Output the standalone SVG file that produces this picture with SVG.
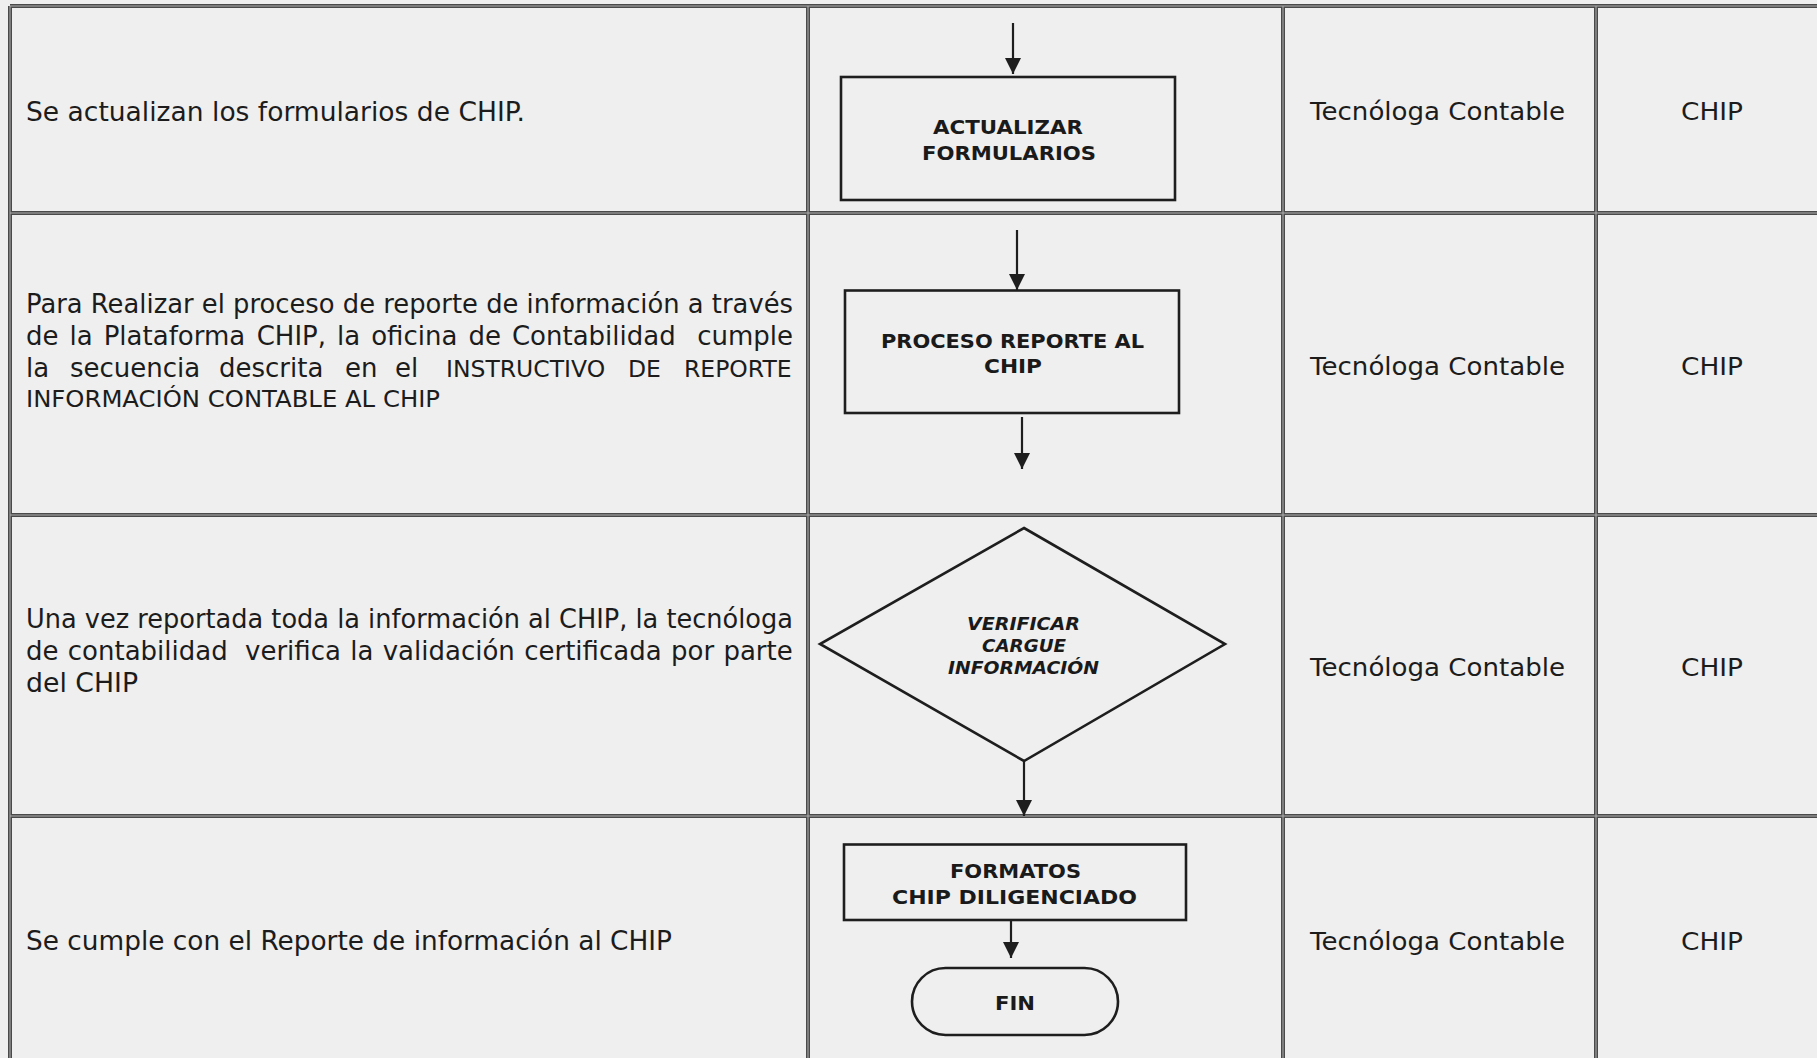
<svg xmlns="http://www.w3.org/2000/svg" width="1817" height="1058" viewBox="0 0 1817 1058">
<style>
.grid{stroke:#4a4a4a;stroke-width:4;fill:none}
.gridc{stroke:#b0b0b0;stroke-width:1;fill:none}
.desc{font-family:"DejaVu Sans","Verdana",sans-serif;font-size:26px;fill:#1c1c1c}
.caps{font-size:23.5px}
.cell{font-family:"DejaVu Sans","Verdana",sans-serif;font-size:25px;fill:#1c1c1c}
.shape{fill:none;stroke:#1e1e1e;stroke-width:2.6}
.lbl{font-family:"DejaVu Sans","Verdana",sans-serif;font-size:20px;font-weight:bold;fill:#1a1a1a}
.lbli{font-family:"DejaVu Sans","Verdana",sans-serif;font-size:17px;font-weight:bold;font-style:italic;fill:#1a1a1a}
.conn{stroke:#1e1e1e;stroke-width:2.2;fill:none;marker-end:url(#ah)}
</style>
<defs>
<marker id="ah" markerUnits="userSpaceOnUse" markerWidth="17" markerHeight="17" refX="16" refY="8" orient="auto">
<path d="M0,0 L16,8 L0,16 z" fill="#1e1e1e"/>
</marker>
</defs>
<rect x="0" y="0" width="1817" height="1058" fill="#efefef"/>
<g id="table">
<path class="grid" d="M10,6 H1817 M10,213 H1817 M10,515 H1817 M10,816 H1817 M10,6 V1058 M808,6 V1058 M1283,6 V1058 M1596,6 V1058"/>
<path class="gridc" d="M10,6 H1817 M10,213 H1817 M10,515 H1817 M10,816 H1817 M10,6 V1058 M808,6 V1058 M1283,6 V1058 M1596,6 V1058"/>
</g>
<g id="descriptions">
<text class="desc" x="26" y="121" textLength="499" lengthAdjust="spacingAndGlyphs">Se actualizan los formularios de CHIP.</text>
<text class="desc" x="26" y="313" textLength="767" lengthAdjust="spacingAndGlyphs">Para Realizar el proceso de reporte de información a través</text>
<text class="desc" y="345"><tspan x="26">de</tspan><tspan x="69.5">la</tspan><tspan x="103.7">Plataforma</tspan><tspan x="256.7">CHIP,</tspan><tspan x="337">la</tspan><tspan x="371.2">oficina</tspan><tspan x="468.4">de</tspan><tspan x="511.9">Contabilidad</tspan><tspan x="697.2">cumple</tspan></text>
<text class="desc" y="377"><tspan x="26">la</tspan><tspan x="70">secuencia</tspan><tspan x="219">descrita</tspan><tspan x="345">en</tspan><tspan x="395">el</tspan><tspan class="caps" x="446">INSTRUCTIVO</tspan><tspan class="caps" x="628">DE</tspan><tspan class="caps" x="684">REPORTE</tspan></text>
<text class="desc caps" x="26" y="407" textLength="414" lengthAdjust="spacingAndGlyphs">INFORMACIÓN CONTABLE AL CHIP</text>
<text class="desc" x="26" y="628" textLength="767" lengthAdjust="spacingAndGlyphs">Una vez reportada toda la información al CHIP, la tecnóloga</text>
<text class="desc" y="660"><tspan x="26">de</tspan><tspan x="67.8">contabilidad</tspan><tspan x="245">verifica</tspan><tspan x="350.2">la</tspan><tspan x="382.7">validación</tspan><tspan x="524.2">certificada</tspan><tspan x="671">por</tspan><tspan x="723.4">parte</tspan></text>
<text class="desc" x="26" y="692" textLength="112" lengthAdjust="spacingAndGlyphs">del CHIP</text>
<text class="desc" x="26" y="950" textLength="646" lengthAdjust="spacingAndGlyphs">Se cumple con el Reporte de información al CHIP</text>
</g>
<g id="responsables">
<text class="cell" x="1310" y="120" textLength="255" lengthAdjust="spacingAndGlyphs">Tecnóloga Contable</text>
<text class="cell" x="1681" y="120" textLength="62" lengthAdjust="spacingAndGlyphs">CHIP</text>
<text class="cell" x="1310" y="375" textLength="255" lengthAdjust="spacingAndGlyphs">Tecnóloga Contable</text>
<text class="cell" x="1681" y="375" textLength="62" lengthAdjust="spacingAndGlyphs">CHIP</text>
<text class="cell" x="1310" y="676" textLength="255" lengthAdjust="spacingAndGlyphs">Tecnóloga Contable</text>
<text class="cell" x="1681" y="676" textLength="62" lengthAdjust="spacingAndGlyphs">CHIP</text>
<text class="cell" x="1310" y="950" textLength="255" lengthAdjust="spacingAndGlyphs">Tecnóloga Contable</text>
<text class="cell" x="1681" y="950" textLength="62" lengthAdjust="spacingAndGlyphs">CHIP</text>
</g>
<g id="connectors">
<line class="conn" x1="1013" y1="23" x2="1013" y2="74"/>
<line class="conn" x1="1017" y1="230" x2="1017" y2="290"/>
<line class="conn" x1="1022" y1="417" x2="1022" y2="469"/>
<line class="conn" x1="1024" y1="761" x2="1024" y2="816"/>
<line class="conn" x1="1011" y1="920" x2="1011" y2="958"/>
</g>
<g id="n-actualizar">
<rect class="shape" x="841" y="77" width="334" height="123"/>
<text class="lbl" x="933" y="134" textLength="150" lengthAdjust="spacingAndGlyphs">ACTUALIZAR</text>
<text class="lbl" x="922" y="160" textLength="174" lengthAdjust="spacingAndGlyphs">FORMULARIOS</text>
</g>
<g id="n-proceso">
<rect class="shape" x="845" y="290.5" width="334" height="122.5"/>
<text class="lbl" x="881" y="348" textLength="263" lengthAdjust="spacingAndGlyphs">PROCESO REPORTE AL</text>
<text class="lbl" x="984" y="373" textLength="58" lengthAdjust="spacingAndGlyphs">CHIP</text>
</g>
<g id="n-verificar">
<polygon class="shape" points="1024,528 1225,644 1024,761 820,644"/>
<text class="lbli" x="967" y="630" textLength="113" lengthAdjust="spacingAndGlyphs">VERIFICAR</text>
<text class="lbli" x="982" y="652" textLength="84" lengthAdjust="spacingAndGlyphs">CARGUE</text>
<text class="lbli" x="948" y="674" textLength="151" lengthAdjust="spacingAndGlyphs">INFORMACIÓN</text>
</g>
<g id="n-formatos">
<rect class="shape" x="844" y="844.5" width="342" height="75.5"/>
<text class="lbl" x="950" y="878" textLength="131" lengthAdjust="spacingAndGlyphs">FORMATOS</text>
<text class="lbl" x="892" y="904" textLength="245" lengthAdjust="spacingAndGlyphs">CHIP DILIGENCIADO</text>
</g>
<g id="n-fin">
<rect class="shape" x="912" y="968" width="206" height="67" rx="33.5" ry="33.5"/>
<text class="lbl" x="995" y="1010" textLength="40" lengthAdjust="spacingAndGlyphs">FIN</text>
</g>
</svg>
